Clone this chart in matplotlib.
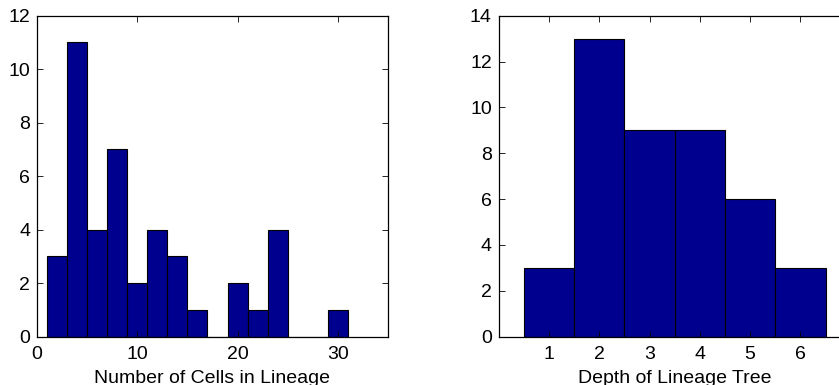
import matplotlib.pyplot as plt
import numpy as np

plt.rcParams['font.family'] = ['Liberation Sans', 'DejaVu Sans']
plt.rcParams['font.size'] = 14

# Left histogram: number of cells in lineage (bins of width 2)
cell_edges = np.arange(1, 33, 2)
cell_counts = [3, 11, 4, 7, 2, 4, 3, 1, 0, 2, 1, 4, 0, 0, 1]

# Right histogram: depth of lineage tree
depth_values = [1, 2, 3, 4, 5, 6]
depth_counts = [3, 13, 9, 9, 6, 3]

bar_color = '#00008F'

fig = plt.figure(figsize=(8.39, 3.85), dpi=100)
ax1 = fig.add_axes([37 / 839, 48.3 / 385, 351 / 839, 321 / 385])
ax2 = fig.add_axes([498.7 / 839, 48.3 / 385, 352 / 839, 321 / 385])

ax1.bar(cell_edges[:-1], cell_counts, width=2, align='edge',
        color=bar_color, edgecolor='black', linewidth=0.8)
ax1.set_xlim(0, 35)
ax1.set_ylim(0, 12)
ax1.set_xticks([0, 10, 20, 30])
ax1.set_yticks(range(0, 13, 2))
ax1.set_xlabel('Number of Cells in Lineage', labelpad=5)

ax2.bar(depth_values, depth_counts, width=1, align='center',
        color=bar_color, edgecolor='black', linewidth=0.8)
ax2.set_xlim(0, 7)
ax2.set_ylim(0, 14)
ax2.set_xticks(depth_values)
ax2.set_yticks(range(0, 15, 2))
ax2.set_xlabel('Depth of Lineage Tree', labelpad=5)

for ax in (ax1, ax2):
    ax.tick_params(direction='in', top=True, right=True, length=4,
                   width=0.6, pad=7)
    ax.tick_params(axis='y', pad=5)
    for s in ax.spines.values():
        s.set_linewidth(0.9)

fig.savefig('out.png', dpi=100)
